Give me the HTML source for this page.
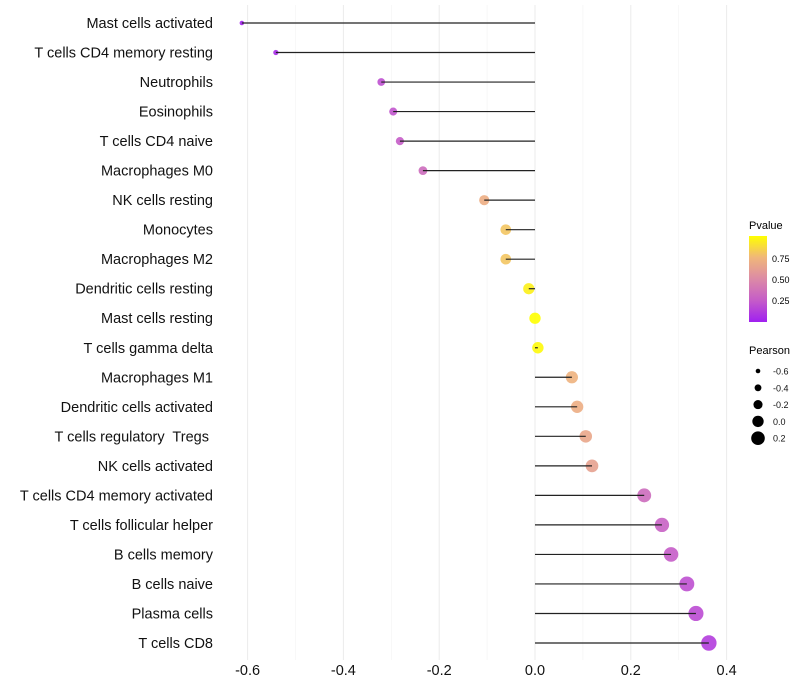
<!DOCTYPE html>
<html><head><meta charset="utf-8"><style>
body{margin:0;background:#fff;}
svg{display:block;font-family:"Liberation Sans",sans-serif;}
text{white-space:pre;}
</style></head><body>
<svg id="chart" width="800" height="700">
<defs>
<linearGradient id="pg" x1="0" y1="1" x2="0" y2="0">
<stop offset="0" stop-color="#a020f0"/><stop offset="0.25" stop-color="#c55cc8"/>
<stop offset="0.5" stop-color="#dc8aa6"/><stop offset="0.75" stop-color="#f0b67a"/>
<stop offset="1" stop-color="#ffff00"/></linearGradient>
</defs>
<g id="grid"></g><g id="marks"></g><g id="labels"></g>
<g>
<text x="749" y="229" font-size="11">Pvalue</text>
<rect x="749" y="236" width="18" height="86" fill="url(#pg)"/>
<text x="772" y="262" font-size="9">0.75</text>
<text x="772" y="283" font-size="9">0.50</text>
<text x="772" y="304" font-size="9">0.25</text>
</g>
<g id="sizeLegend">
<text x="749" y="354" font-size="11">Pearson</text>
</g>
</svg>
<script>
const categories=["Mast cells activated","T cells CD4 memory resting","Neutrophils","Eosinophils","T cells CD4 naive","Macrophages M0","NK cells resting","Monocytes","Macrophages M2","Dendritic cells resting","Mast cells resting","T cells gamma delta","Macrophages M1","Dendritic cells activated","T cells regulatory  Tregs ","NK cells activated","T cells CD4 memory activated","T cells follicular helper","B cells memory","B cells naive","Plasma cells","T cells CD8"];
const pearson=[-0.612,-0.541,-0.321,-0.296,-0.282,-0.234,-0.106,-0.061,-0.061,-0.013,0.0,0.006,0.077,0.088,0.106,0.119,0.228,0.265,0.284,0.317,0.336,0.363];
const pvalues=[0.02,0.05,0.2,0.22,0.25,0.33,0.7,0.8,0.8,0.95,1.0,0.98,0.73,0.7,0.66,0.63,0.33,0.28,0.25,0.2,0.18,0.12];
const xTicks=[-0.6,-0.4,-0.2,0.0,0.2,0.4];
const xMinor=[-0.5,-0.3,-0.1,0.1,0.3];
const sizeLegendValues=[-0.6,-0.4,-0.2,0.0,0.2];
const NS="http://www.w3.org/2000/svg";
const X=v=>535+v*479;
const Y=i=>23+i*(620/21);
const R=v=>2.2+(v+0.62)*5.6;
const stops=[[0,[160,32,240]],[0.25,[197,92,200]],[0.5,[220,138,166]],[0.75,[240,182,122]],[1,[255,255,0]]];
function col(p){for(let i=1;i<stops.length;i++){if(p<=stops[i][0]){const a=stops[i-1],b=stops[i],t=(p-a[0])/(b[0]-a[0]);return"rgb("+a[1].map((c,k)=>Math.round(c+(b[1][k]-c)*t)).join(",")+")";}}return"rgb(255,255,0)";}
function mk(t,a,parent){const e=document.createElementNS(NS,t);for(const k in a)e.setAttribute(k,a[k]);parent.appendChild(e);return e;}
const grid=document.getElementById("grid"),marks=document.getElementById("marks"),labels=document.getElementById("labels");
xMinor.forEach(v=>{const l=mk("line",{x1:X(v),x2:X(v),y1:5,y2:660,stroke:"#f3f3f3","stroke-width":0.6},grid);

});
xTicks.forEach(v=>{const l=mk("line",{x1:X(v),x2:X(v),y1:5,y2:660,stroke:"#ebebeb","stroke-width":1},grid);


const t=mk("text",{x:X(v),y:675,"font-size":14.5,"text-anchor":"middle",fill:"#111"},labels);t.textContent=v.toFixed(1);

});
categories.forEach((c,i)=>{
const t=mk("text",{x:213,y:Y(i)+5,"font-size":14.5,"text-anchor":"end",fill:"#111"},labels);t.textContent=c;


const d=mk("circle",{cx:X(pearson[i]),cy:Y(i),r:R(pearson[i]),fill:col(pvalues[i]),"fill-opacity":0.9},marks);


const l=mk("line",{x1:X(pearson[i]),x2:X(0),y1:Y(i),y2:Y(i),stroke:"#222","stroke-width":1.2},marks);


});
const sl=document.getElementById("sizeLegend");
sizeLegendValues.forEach((v,i)=>{const y=371+i*16.8;
const c=mk("circle",{cx:758,cy:y,r:R(v),fill:"#000"},sl);


const t=mk("text",{x:773,y:y+3.5,"font-size":9,fill:"#111"},sl);t.textContent=v.toFixed(1);

});
</script>
</body></html>
